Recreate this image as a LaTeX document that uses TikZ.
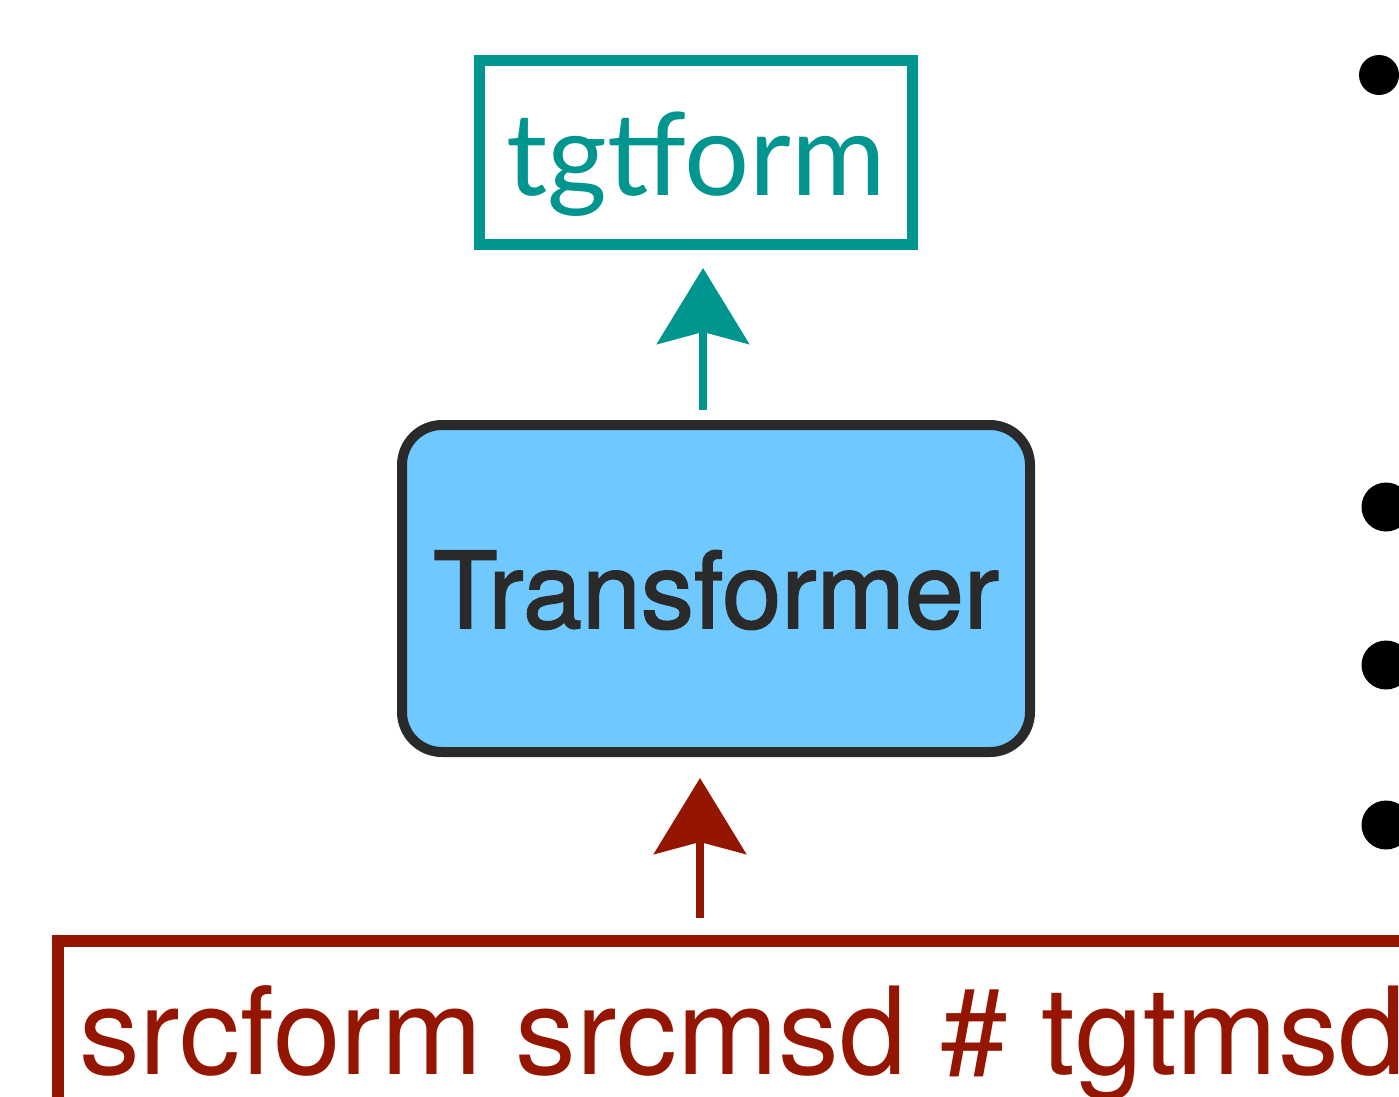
\documentclass[tikz,border=0pt]{standalone}
\usepackage{fontspec}
\setmainfont{TeX Gyre Heros}
\newfontfamily\latofont{Lato}
\newfontfamily\heavyfont[FakeBold=1.6]{TeX Gyre Heros}
\usetikzlibrary{arrows.meta,positioning}
\definecolor{tgtteal}{HTML}{00968F}
\definecolor{srcred}{HTML}{941500}
\definecolor{modelblue}{HTML}{6FC8FE}
\definecolor{modeldark}{HTML}{2A2A2A}
\tikzset{every picture/.style={
  >={Stealth[inset=12pt,length=76pt,width=92pt]}   % Big sketchy heads.
  }
}

\begin{document}
\begin{tikzpicture}[
    x=1pt,y=-1pt,
    formbox/.style={
      draw=tgtteal,
      line width=11pt,
      text=tgtteal,
      font=\latofont\fontsize{115}{122}\selectfont,
      minimum width=433pt,
      minimum height=184pt,
      inner sep=0pt,
      text height=85pt,
      text depth=0pt
    },
    modelbox/.style={
      draw=modeldark,
      fill=modelblue,
      line width=10pt,
      rounded corners=40pt,
      text=modeldark,
      font=\heavyfont\fontsize{106}{114}\selectfont,
      minimum width=628pt,
      minimum height=327pt,
      inner sep=0pt,
      text height=79pt,
      text depth=0pt
    },
    srcbox/.style={
      draw=srcred,
      line width=12pt,
      text=srcred,
      font=\fontsize{121.5}{128}\selectfont,
      anchor=north west,
      inner xsep=21pt,
      inner ysep=20pt,
      text height=113pt,
      text depth=40pt
    },
    flowarrow/.style={
      ->,
      line width=8pt
    }]

    \useasboundingbox (0,0) rectangle (1399,1096);
    \clip (0,0) rectangle (1399,1096);

    % The model in the middle, target above, source below.
    \node[modelbox] (model) at (716,588.5) {Transformer};
    \node[formbox,above=170pt of model,xshift=-20pt] (tgt) {tgtform};
    \node[srcbox] (src) at (52,935) {srcform srcmsd \# tgtmsd};

    % Arrows run straight up between the boxes.
    \coordinate (upx) at (703,0);
    \coordinate (inx) at (700,0);
    \draw[flowarrow,draw=tgtteal,fill=tgtteal,shorten <=10pt,shorten >=18pt]
      (model.north -| upx) -- (tgt.south -| upx);
    \draw[flowarrow,draw=srcred,fill=srcred,shorten <=17pt,shorten >=21pt]
      (src.north -| inx) -- (model.south -| inx);

    % Bullets of the slide text, cut by the right edge.
    \fill (1379,75) circle (20);
    \foreach \y in {507,665,825}
      \fill (1386,\y) circle (24.5);
  \end{tikzpicture}
\end{document}
